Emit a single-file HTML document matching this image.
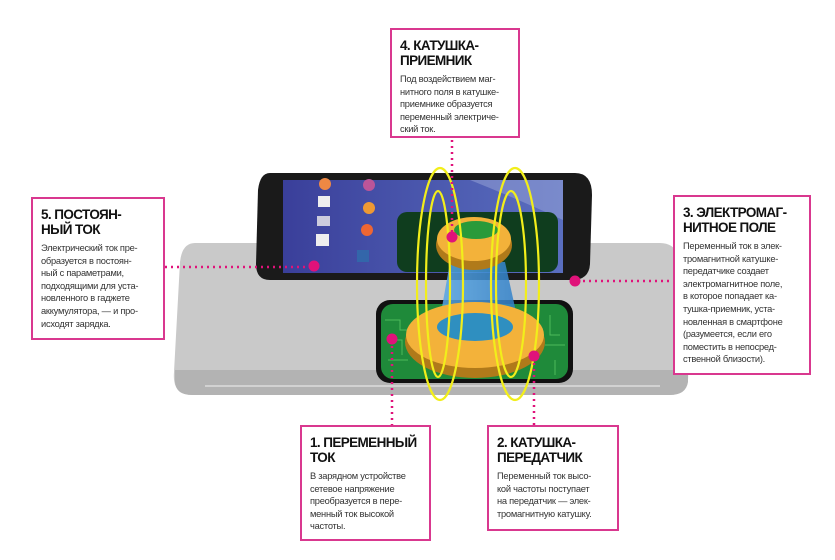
<!DOCTYPE html>
<html><head><meta charset="utf-8"><style>
body{margin:0;width:835px;height:560px;background:#fff;overflow:hidden;position:relative;font-family:"Liberation Sans","DejaVu Sans",sans-serif}
.box{position:absolute;border:2px solid #d9388f;background:#fff;box-sizing:border-box;padding:8px 8px;white-space:nowrap}
.box h3{margin:0 0 5px;font-size:13.5px;line-height:15px;font-weight:bold;color:#111;letter-spacing:-0.6px}
.box p{margin:0;font-size:9.3px;line-height:12.6px;color:#333;letter-spacing:-0.25px}
svg{position:absolute;left:0;top:0}
</style></head><body>
<svg width="835" height="560">
<defs>
<linearGradient id="scr" x1="0" x2="1"><stop offset="0" stop-color="#3a3f9a"/><stop offset="1" stop-color="#5a6fc0"/></linearGradient>
<linearGradient id="beam" x1="0" x2="1"><stop offset="0" stop-color="#5aa9e6"/><stop offset="1" stop-color="#2f7fc8"/></linearGradient>
</defs>
<path d="M195 243 H660 Q677 243 680 262 L688 372 Q690 395 670 395 H192 Q172 395 174 372 L180 262 Q182 243 195 243Z" fill="#c9c9c9"/>
<path d="M175 370 H688 L688 382 Q686 395 670 395 H192 Q176 395 175 382Z" fill="#b3b3b3"/>
<line x1="205" y1="386" x2="660" y2="386" stroke="#ddd" stroke-width="1.5"/>
<rect x="376" y="300" width="197" height="83" rx="14" fill="#111"/>
<rect x="381" y="304" width="187" height="75" rx="12" fill="#1f8a3a"/>
<g stroke="#5fd06a" stroke-width="1" fill="none" opacity=".7">
<path d="M385 320 h15 v10 h10 M390 340 h12 v15 M388 360 h20 M550 315 v20 h10 M545 345 h20 M555 360 v15"/>
</g>
<path d="M270 173 H575 Q592 173 592 195 L590 264 Q589 280 572 280 H270 Q256 280 256 264 L258 190 Q260 173 270 173Z" fill="#1a1a1a"/>
<rect x="283" y="180" width="280" height="93" fill="url(#scr)"/>
<path d="M470 180 L563 180 L563 220 Q520 200 470 180Z" fill="#9aa6d8" opacity=".5"/>
<circle cx="325" cy="184" r="6" fill="#e84"/><circle cx="369" cy="185" r="6" fill="#b59"/>
<rect x="318" y="196" width="12" height="11" fill="#eee"/><circle cx="369" cy="208" r="6" fill="#e93"/>
<rect x="317" y="216" width="13" height="10" fill="#ccd"/><circle cx="367" cy="230" r="6" fill="#e63"/>
<rect x="316" y="234" width="13" height="12" fill="#eee"/><rect x="357" y="250" width="12" height="12" fill="#36a"/>
<rect x="397" y="212" width="161" height="60" rx="10" fill="#0f3d1e"/>
<path d="M450 262 L505 262 L520 330 L438 330Z" fill="url(#beam)" opacity=".85"/>
<ellipse cx="475" cy="342" rx="70" ry="36" fill="#b07a1a"/>
<ellipse cx="475" cy="335" rx="69" ry="33" fill="#f3b23a"/>
<ellipse cx="475" cy="327" rx="38" ry="14" fill="#2f8fc0"/>
<ellipse cx="474" cy="245" rx="38" ry="25" fill="#b07a1a"/>
<ellipse cx="474" cy="239" rx="37" ry="22" fill="#f3b23a"/>
<ellipse cx="476" cy="230" rx="22" ry="9" fill="#2a9a3a"/>
<g fill="none" stroke="#f2ee1a" stroke-width="2.2">
<ellipse cx="440" cy="284" rx="23" ry="116"/><ellipse cx="438" cy="284" rx="12" ry="93"/>
<ellipse cx="515" cy="284" rx="24" ry="116"/><ellipse cx="511" cy="284" rx="15" ry="93"/>
</g>
<g stroke="#e0127a" stroke-width="2.5" stroke-dasharray="2 4" fill="none">
<line x1="452" y1="140" x2="452" y2="237"/>
<line x1="165" y1="267" x2="313" y2="267"/>
<line x1="577" y1="281" x2="672" y2="281"/>
<line x1="392" y1="340" x2="392" y2="425"/>
<line x1="534" y1="357" x2="534" y2="425"/>
</g>
<g fill="#e0127a"><circle cx="452" cy="237" r="5.5"/><circle cx="314" cy="266" r="5.5"/><circle cx="575" cy="281" r="5.5"/><circle cx="392" cy="339" r="5.5"/><circle cx="534" cy="356" r="5.5"/></g>
</svg>
<div class="box" style="left:390px;top:28px;width:130px;height:110px"><h3>4. КАТУШКА-<br>ПРИЕМНИК</h3><p>Под воздействием маг-<br>нитного поля в катушке-<br>приемнике образуется<br>переменный электриче-<br>ский ток.</p></div>
<div class="box" style="left:31px;top:197px;width:134px;height:143px"><h3>5. ПОСТОЯН-<br>НЫЙ ТОК</h3><p>Электрический ток пре-<br>образуется в постоян-<br>ный с параметрами,<br>подходящими для уста-<br>новленного в гаджете<br>аккумулятора, — и про-<br>исходят зарядка.</p></div>
<div class="box" style="left:673px;top:195px;width:138px;height:180px"><h3>3. ЭЛЕКТРОМАГ-<br>НИТНОЕ ПОЛЕ</h3><p>Переменный ток в элек-<br>тромагнитной катушке-<br>передатчике создает<br>электромагнитное поле,<br>в которое попадает ка-<br>тушка-приемник, уста-<br>новленная в смартфоне<br>(разумеется, если его<br>поместить в непосред-<br>ственной близости).</p></div>
<div class="box" style="left:300px;top:425px;width:131px;height:116px"><h3>1. ПЕРЕМЕННЫЙ<br>ТОК</h3><p>В зарядном устройстве<br>сетевое напряжение<br>преобразуется в пере-<br>менный ток высокой<br>частоты.</p></div>
<div class="box" style="left:487px;top:425px;width:132px;height:106px"><h3>2. КАТУШКА-<br>ПЕРЕДАТЧИК</h3><p>Переменный ток высо-<br>кой частоты поступает<br>на передатчик — элек-<br>тромагнитную катушку.</p></div>
</body></html>
